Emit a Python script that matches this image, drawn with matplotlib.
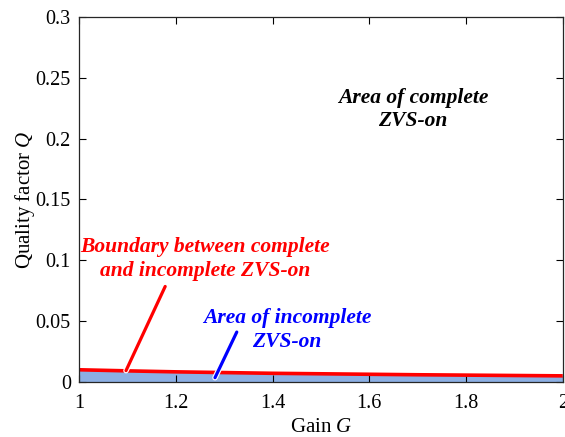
import matplotlib
matplotlib.use('Agg')
import matplotlib.pyplot as plt
import matplotlib.patheffects as pe

plt.rcParams['font.family'] = ['Liberation Serif', 'DejaVu Serif']
plt.rcParams['mathtext.fontset'] = 'custom'
plt.rcParams['mathtext.it'] = 'Liberation Serif:italic'

# boundary curve Q(G) between complete and incomplete ZVS-on
gain = [1.0, 1.1, 1.2, 1.3, 1.4, 1.5, 1.6, 1.7, 1.8, 1.9, 2.0]
q_boundary = [0.0100, 0.0091, 0.0083, 0.0077, 0.0071, 0.0067, 0.0063, 0.0059, 0.0056, 0.0053, 0.0050]

fig = plt.figure(figsize=(5.65, 4.37), dpi=100)
ax = fig.add_axes([0.140, 0.126, 0.856, 0.835])

ax.fill_between(gain, 0, q_boundary, color='#8cafe3', linewidth=0)
ax.plot(gain, q_boundary, color='red', linewidth=2.6, solid_capstyle='butt')

ax.set_xlim(1, 2)
ax.set_ylim(0, 0.3)
ax.set_xticks([1, 1.2, 1.4, 1.6, 1.8, 2])
ax.set_xticklabels(['1', '1.2', '1.4', '1.6', '1.8', '2'])
ax.set_yticks([0, 0.05, 0.1, 0.15, 0.2, 0.25, 0.3])
ax.set_yticklabels(['0', '0.05', '0.1', '0.15', '0.2', '0.25', '0.3'])
ax.tick_params(direction='in', top=True, right=True, labelsize=14.5, length=5, width=0.8)
ax.tick_params(axis='x', pad=9)
ax.tick_params(axis='y', pad=6)
for s in ax.spines.values():
    s.set_linewidth(0.9)
    s.set_color('#262626')

ax.set_xlabel('Gain $G$', fontsize=15, labelpad=3)
ax.set_ylabel('Quality factor $Q$', fontsize=15, labelpad=-1)

outline = [pe.Stroke(linewidth=4, foreground='white'), pe.Normal()]

# leader lines
ax.plot([1.097, 1.178], [0.0093, 0.0785], color='red', linewidth=2.3, solid_capstyle='round',
        path_effects=outline, zorder=3)
ax.plot([1.281, 1.326], [0.0035, 0.041], color='blue', linewidth=2.3, solid_capstyle='round',
        path_effects=outline, zorder=3)

ax.text(1.26, 0.101, 'Boundary between complete\nand incomplete ZVS-on', color='red',
        fontsize=15.5, fontweight='bold', fontstyle='italic', ha='center', va='center',
        linespacing=1.25)
ax.text(1.43, 0.0428, 'Area of incomplete\nZVS-on', color='blue',
        fontsize=15.5, fontweight='bold', fontstyle='italic', ha='center', va='center',
        linespacing=1.25)
ax.text(1.69, 0.224, 'Area of complete\nZVS-on', color='black',
        fontsize=15.5, fontweight='bold', fontstyle='italic', ha='center', va='center',
        linespacing=1.25)

fig.savefig('out.png', dpi=100)
